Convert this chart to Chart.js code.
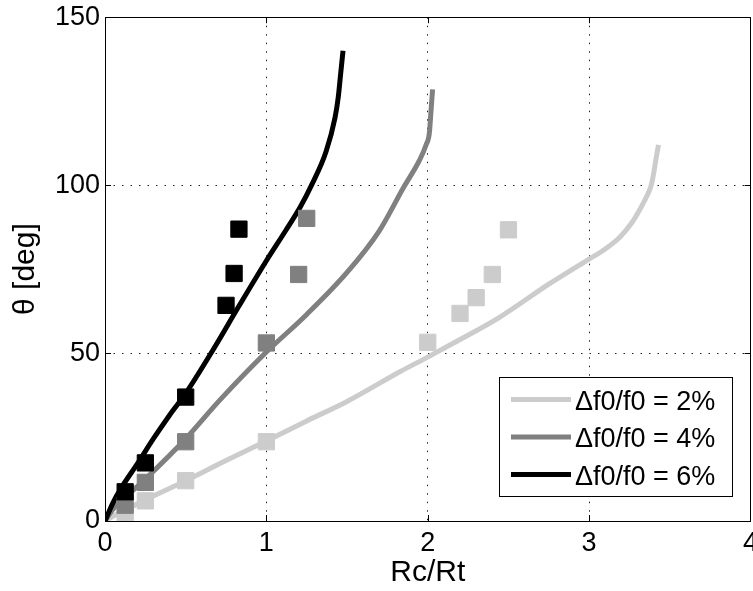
<!DOCTYPE html>
<html>
<head>
<meta charset="utf-8">
<script src="https://cdn.jsdelivr.net/npm/chart.js@4.4.0/dist/chart.umd.min.js"></script>
<style>
  html, body { margin: 0; padding: 0; background: #fff; overflow: hidden; width: 753px; height: 591px; }
  #chart_elem { display: block; margin-top: -4px; }
</style>
</head>
<body>
<canvas id="chart_elem" width="764" height="595"></canvas>
<script>
// data
const legendLabels = ['\u0394f0/f0 = 2%', '\u0394f0/f0 = 4%', '\u0394f0/f0 = 6%'];
const seriesColors = ['#cccccc', '#808080', '#000000'];

const lightLineX = [0, 0.05, 0.125, 0.25, 0.5, 0.75, 1.0, 1.25, 1.5, 1.83, 2.0, 2.16, 2.44, 2.75, 3.0, 3.1, 3.19, 3.26, 3.31, 3.36, 3.385, 3.40, 3.415, 3.43];
const lightLineY = [0, 1.4, 3.2, 6.3, 12, 18, 23.8, 29.8, 35.6, 44.5, 48.8, 53, 60.5, 70.5, 78, 81, 84.5, 88.5, 92.4, 97, 100, 103.5, 108, 112];

const grayLineX = [0, 0.05, 0.125, 0.25, 0.5, 0.71, 1.0, 1.25, 1.5, 1.7, 1.85, 1.95, 1.99, 2.01, 2.02, 2.03];
const grayLineY = [0, 3.5, 7, 12.5, 24.5, 35.9, 50.3, 61.5, 74, 86.4, 99.3, 107.5, 112, 115.5, 122, 128.5];

const blackLineX = [0, 0.05, 0.1, 0.2, 0.3, 0.4, 0.5, 0.67, 0.83, 1.0, 1.12, 1.21, 1.28, 1.37, 1.425, 1.445, 1.46, 1.475];
const blackLineY = [0, 5.5, 9.8, 17, 24.5, 31.5, 38, 51, 64, 77.5, 86.5, 93.5, 100, 110, 120, 126, 133, 140];

const lightSqX = [0.125, 0.25, 0.5, 1.0, 2.0, 2.2, 2.3, 2.4, 2.5];
const lightSqY = [1.3, 6, 12, 23.6, 53.2, 61.8, 66.5, 73.4, 86.7];
const graySqX = [0.125, 0.25, 0.5, 1.0, 1.2, 1.25];
const graySqY = [4.7, 11.5, 23.6, 53, 73.4, 90.1];
const blackSqX = [0.125, 0.25, 0.5, 0.75, 0.8, 0.83];
const blackSqY = [8.7, 17.3, 36.9, 64.2, 73.7, 86.9];

const xTicks = [0, 1, 2, 3, 4];
const yTicks = [0, 50, 100, 150];

const FONT = '"Liberation Sans", Arial, Helvetica, sans-serif';

const toPoints = (xs, ys) => xs.map((x, i) => ({x: x, y: ys[i]}));

const lineSet = (label, xs, ys, color, order) => ({
  label: label,
  data: toPoints(xs, ys),
  showLine: true,
  borderColor: color,
  borderWidth: 5,
  borderJoinStyle: 'round',
  pointRadius: 0,
  cubicInterpolationMode: 'monotone',
  fill: false,
  order: order
});

const squareSet = (xs, ys, color, order) => ({
  label: '',
  data: toPoints(xs, ys),
  showLine: false,
  pointStyle: 'rect',
  pointRadius: 11.5,
  backgroundColor: color,
  borderColor: color,
  borderWidth: 1,
  clip: 0,
  order: order
});

// legend + box + inward tick marks, like the matlab axes
const axesBox = {
  id: 'axesBox',
  afterDatasetsDraw(chart) {
    const ctx = chart.ctx;
    const a = chart.chartArea;
    const xs = chart.scales.x, ys = chart.scales.y;
    ctx.save();
    ctx.strokeStyle = '#000';
    ctx.lineWidth = 1;
    ctx.beginPath();
    xTicks.forEach((t) => {
      const px = Math.round(xs.getPixelForValue(t)) + 0.5;
      ctx.moveTo(px, a.bottom); ctx.lineTo(px, a.bottom - 6);
      ctx.moveTo(px, a.top); ctx.lineTo(px, a.top + 6);
    });
    yTicks.forEach((t) => {
      const py = Math.round(ys.getPixelForValue(t)) + 0.5;
      ctx.moveTo(a.left, py); ctx.lineTo(a.left + 6, py);
      ctx.moveTo(a.right, py); ctx.lineTo(a.right - 6, py);
    });
    ctx.stroke();
    ctx.strokeRect(Math.round(a.left) + 0.5, Math.round(a.top) + 0.5,
                   Math.round(a.right - a.left), Math.round(a.bottom - a.top));
    ctx.restore();
  },
  afterDraw(chart) {
    const ctx = chart.ctx;
    const a = chart.chartArea;
    const bx = Math.round(a.right) - 251, by = Math.round(a.bottom) - 144, bw = 233, bh = 119;
    ctx.save();
    ctx.fillStyle = '#fff';
    ctx.fillRect(bx, by, bw, bh);
    ctx.strokeStyle = '#000';
    ctx.lineWidth = 1;
    ctx.strokeRect(bx + 0.5, by + 0.5, bw, bh);
    ctx.font = '27px ' + FONT;
    ctx.textBaseline = 'alphabetic';
    ctx.textAlign = 'left';
    legendLabels.forEach((lab, i) => {
      const cy = by + 22.5 + i * 37.5;
      ctx.strokeStyle = seriesColors[i];
      ctx.lineWidth = 5;
      ctx.beginPath();
      ctx.moveTo(bx + 12, cy);
      ctx.lineTo(bx + 72, cy);
      ctx.stroke();
      ctx.fillStyle = '#000';
      ctx.fillText(lab, bx + 76, cy + 10);
    });
    ctx.restore();
  }
};

const canvas = document.getElementById('chart_elem');
const ctx = canvas.getContext('2d');

const data = {
  datasets: [
    squareSet(blackSqX, blackSqY, seriesColors[2], 0),
    squareSet(graySqX, graySqY, seriesColors[1], 1),
    squareSet(lightSqX, lightSqY, seriesColors[0], 2),
    lineSet(legendLabels[2], blackLineX, blackLineY, seriesColors[2], 3),
    lineSet(legendLabels[1], grayLineX, grayLineY, seriesColors[1], 4),
    lineSet(legendLabels[0], lightLineX, lightLineY, seriesColors[0], 5)
  ]
};

const config = {
  type: 'scatter',
  data,
  options: {
    responsive: false,
    animation: false,
    devicePixelRatio: 1,
    events: [],
    layout: { padding: { top: 12, right: 2, left: 0, bottom: 0 } },
    plugins: { legend: { display: false }, tooltip: { enabled: false } },
    scales: {
      x: {
        type: 'linear',
        min: 0, max: 4,
        afterBuildTicks: (scale) => { scale.ticks = xTicks.map(v => ({value: v})); },
        ticks: { color: '#000', font: { family: FONT, size: 27 }, padding: 6, maxRotation: 0 },
        grid: { color: '#222', lineWidth: 1, drawTicks: false },
        border: { display: false, dash: [1.5, 7] },
        title: { display: true, text: 'Rc/Rt', color: '#000', font: { family: FONT, size: 30 }, padding: 0 },
        afterFit: (scale) => { scale.height = 70; }
      },
      y: {
        type: 'linear',
        min: 0, max: 150,
        afterBuildTicks: (scale) => { scale.ticks = yTicks.map(v => ({value: v})); },
        ticks: { color: '#000', font: { family: FONT, size: 27 }, padding: 5 },
        grid: { color: '#222', lineWidth: 1, drawTicks: false },
        border: { display: false, dash: [1.5, 7] },
        title: { display: true, text: '\u03b8 [deg]', color: '#000', font: { family: FONT, size: 30 }, padding: 8 },
        afterFit: (scale) => { scale.width = 105; }
      }
    }
  },
  plugins: [axesBox]
};

const chart = new Chart(ctx, config);
</script>
</body>
</html>
